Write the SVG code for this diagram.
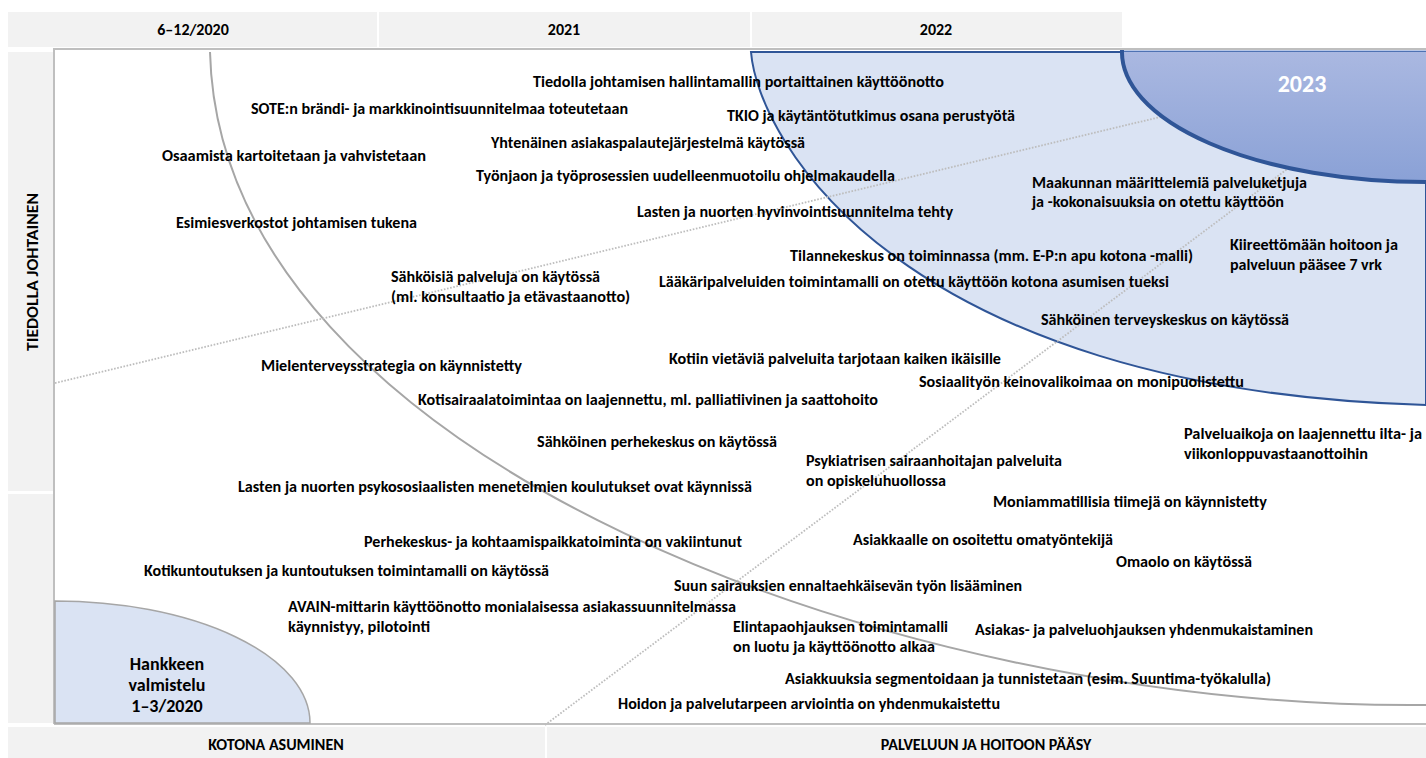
<svg xmlns="http://www.w3.org/2000/svg" width="1426" height="758" viewBox="0 0 1426 758">
<style>
.t{font-family:Carlito,Lato,"Liberation Sans",sans-serif;font-size:16px;font-weight:700;fill:#000}
.h{font-family:Carlito,Lato,"Liberation Sans",sans-serif;font-size:16px;font-weight:700;fill:#000;text-anchor:middle}
.band{fill:#f2f2f2}
.frame{stroke:#bfbfbf;stroke-width:2;fill:none}
.dot{stroke:#bdbdbd;stroke-width:1.8;stroke-dasharray:1.6 1.6;fill:none}
</style>
<defs>
<linearGradient id="g23" gradientUnits="userSpaceOnUse" x1="0" y1="52" x2="0" y2="182">
<stop offset="0" stop-color="#aab8e1"/>
<stop offset="1" stop-color="#8aa1d6"/>
</linearGradient>
</defs>
<rect width="1426" height="758" fill="#fff"/>
<g id="header">
<rect class="band" x="8" y="12" width="1114" height="35"/>
<line x1="378" y1="12" x2="378" y2="47" stroke="#fff" stroke-width="2"/>
<line x1="751" y1="12" x2="751" y2="47" stroke="#fff" stroke-width="2"/>
<text class="h" x="193" y="35">6–12/2020</text>
<text class="h" x="564" y="35">2021</text>
<text class="h" x="936" y="35">2022</text>
</g>
<g id="left-axis">
<rect class="band" x="8" y="52" width="45" height="439"/>
<rect class="band" x="8" y="494" width="45" height="229"/>
<text class="h" x="32" y="277.5" transform="rotate(-90 32 272)" textLength="158" lengthAdjust="spacingAndGlyphs">TIEDOLLA JOHTAINEN</text>
</g>
<g id="bottom-axis">
<rect class="band" x="8" y="727" width="537" height="31"/>
<rect class="band" x="547" y="727" width="879" height="31"/>
<text class="h" x="276" y="750">KOTONA ASUMINEN</text>
<text class="h" x="986" y="750">PALVELUUN JA HOITOON PÄÄSY</text>
</g>
<g id="frame">
<line class="frame" x1="53" y1="49" x2="1426" y2="49"/>
<line class="frame" x1="54" y1="49" x2="54" y2="724"/>
<line class="frame" x1="54" y1="724" x2="1426" y2="724"/>
</g>
<g id="phase-2022">
<path d="M751,52 L1426,52 L1426,405 C900,390 758,140 751,52 Z" fill="#dae3f3" stroke="#2f5597" stroke-width="2"/>
</g>
<g id="connectors">
<path d="M210,52 C220,460 900,710 1426,705" stroke="#a6a6a6" stroke-width="2" fill="none"/>
<line class="dot" x1="55" y1="383" x2="1160" y2="117"/>
<line class="dot" x1="545" y1="725" x2="1290" y2="167"/>
</g>
<g id="phase-2023">
<path d="M1122,52 A304,130 0 0 0 1426,182 L1426,52 Z" fill="url(#g23)"/>
<path d="M1122,51 L1426,51" stroke="#6f8fd0" stroke-width="1"/>
<path d="M1122,50 A304,130 0 0 0 1426,182" stroke="#2f5597" stroke-width="4" fill="none"/>
<text x="1302" y="92" font-family="Carlito,Lato,'Liberation Sans',sans-serif" font-size="24" font-weight="700" fill="#fff" text-anchor="middle">2023</text>
</g>
<g id="phase-prep">
<path d="M55,601 A255,122 0 0 1 310,723 L55,723 Z" fill="#dae3f3" stroke="#a6a6a6" stroke-width="1.5"/>
<text class="h" x="167" y="670" style="font-size:18px">Hankkeen</text>
<text class="h" x="167" y="691" style="font-size:18px">valmistelu</text>
<text class="h" x="167" y="712" style="font-size:18px">1–3/2020</text>
</g>
<g id="n1"><text class="t" x="533" y="87" textLength="411" lengthAdjust="spacingAndGlyphs">Tiedolla johtamisen hallintamallin portaittainen käyttöönotto</text></g>
<g id="n2"><text class="t" x="251" y="114" textLength="377" lengthAdjust="spacingAndGlyphs">SOTE:n brändi- ja markkinointisuunnitelmaa toteutetaan</text></g>
<g id="n3"><text class="t" x="727" y="121" textLength="288" lengthAdjust="spacingAndGlyphs">TKIO ja käytäntötutkimus osana perustyötä</text></g>
<g id="n4"><text class="t" x="491" y="148" textLength="314" lengthAdjust="spacingAndGlyphs">Yhtenäinen asiakaspalautejärjestelmä käytössä</text></g>
<g id="n5"><text class="t" x="162" y="161" textLength="264" lengthAdjust="spacingAndGlyphs">Osaamista kartoitetaan  ja vahvistetaan</text></g>
<g id="n6"><text class="t" x="476" y="181" textLength="419" lengthAdjust="spacingAndGlyphs">Työnjaon ja työprosessien uudelleenmuotoilu ohjelmakaudella</text></g>
<g id="n7"><text class="t" x="1032" y="188" textLength="275" lengthAdjust="spacingAndGlyphs">Maakunnan määrittelemiä palveluketjuja</text><text class="t" x="1032" y="207" textLength="252" lengthAdjust="spacingAndGlyphs">ja -kokonaisuuksia on otettu käyttöön</text></g>
<g id="n8"><text class="t" x="637" y="217" textLength="316" lengthAdjust="spacingAndGlyphs">Lasten ja nuorten hyvinvointisuunnitelma tehty</text></g>
<g id="n9"><text class="t" x="176" y="228" textLength="241" lengthAdjust="spacingAndGlyphs">Esimiesverkostot johtamisen tukena</text></g>
<g id="n10"><text class="t" x="1230" y="250" textLength="168" lengthAdjust="spacingAndGlyphs">Kiireettömään hoitoon ja</text><text class="t" x="1230" y="270" textLength="152" lengthAdjust="spacingAndGlyphs">palveluun pääsee 7 vrk</text></g>
<g id="n11"><text class="t" x="790" y="261" textLength="403" lengthAdjust="spacingAndGlyphs">Tilannekeskus on  toiminnassa (mm. E-P:n apu kotona -malli)</text></g>
<g id="n12"><text class="t" x="391" y="282" textLength="209" lengthAdjust="spacingAndGlyphs">Sähköisiä palveluja on käytössä</text><text class="t" x="391" y="302" textLength="239" lengthAdjust="spacingAndGlyphs">(ml. konsultaatio ja etävastaanotto)</text></g>
<g id="n13"><text class="t" x="659" y="287" textLength="510" lengthAdjust="spacingAndGlyphs">Lääkäripalveluiden toimintamalli on otettu käyttöön kotona asumisen tueksi</text></g>
<g id="n14"><text class="t" x="1041" y="325" textLength="248" lengthAdjust="spacingAndGlyphs">Sähköinen terveyskeskus on käytössä</text></g>
<g id="n15"><text class="t" x="669" y="364" textLength="332" lengthAdjust="spacingAndGlyphs">Kotiin vietäviä palveluita tarjotaan kaiken ikäisille</text></g>
<g id="n16"><text class="t" x="261" y="371" textLength="261" lengthAdjust="spacingAndGlyphs">Mielenterveysstrategia on käynnistetty</text></g>
<g id="n17"><text class="t" x="919" y="387" textLength="325" lengthAdjust="spacingAndGlyphs">Sosiaalityön keinovalikoimaa on monipuolistettu</text></g>
<g id="n18"><text class="t" x="418" y="405" textLength="460" lengthAdjust="spacingAndGlyphs">Kotisairaalatoimintaa on laajennettu, ml. palliatiivinen ja saattohoito</text></g>
<g id="n19"><text class="t" x="537" y="447" textLength="240" lengthAdjust="spacingAndGlyphs">Sähköinen perhekeskus on käytössä</text></g>
<g id="n20"><text class="t" x="1184" y="439" textLength="238" lengthAdjust="spacingAndGlyphs">Palveluaikoja on  laajennettu ilta- ja</text><text class="t" x="1184" y="459" textLength="184" lengthAdjust="spacingAndGlyphs">viikonloppuvastaanottoihin</text></g>
<g id="n21"><text class="t" x="806" y="466" textLength="256" lengthAdjust="spacingAndGlyphs">Psykiatrisen sairaanhoitajan palveluita</text><text class="t" x="806" y="486" textLength="140" lengthAdjust="spacingAndGlyphs">on opiskeluhuollossa</text></g>
<g id="n22"><text class="t" x="238" y="492" textLength="514" lengthAdjust="spacingAndGlyphs">Lasten ja nuorten psykososiaalisten menetelmien koulutukset ovat käynnissä</text></g>
<g id="n23"><text class="t" x="993" y="507" textLength="274" lengthAdjust="spacingAndGlyphs">Moniammatillisia tiimejä on käynnistetty</text></g>
<g id="n24"><text class="t" x="364" y="547" textLength="378" lengthAdjust="spacingAndGlyphs">Perhekeskus- ja kohtaamispaikkatoiminta on vakiintunut</text></g>
<g id="n25"><text class="t" x="853" y="545" textLength="260" lengthAdjust="spacingAndGlyphs">Asiakkaalle on osoitettu omatyöntekijä</text></g>
<g id="n26"><text class="t" x="1116" y="567" textLength="136" lengthAdjust="spacingAndGlyphs">Omaolo on käytössä</text></g>
<g id="n27"><text class="t" x="144" y="576" textLength="405" lengthAdjust="spacingAndGlyphs">Kotikuntoutuksen ja kuntoutuksen toimintamalli on käytössä</text></g>
<g id="n28"><text class="t" x="674" y="591" textLength="348" lengthAdjust="spacingAndGlyphs">Suun sairauksien ennaltaehkäisevän työn lisääminen</text></g>
<g id="n29"><text class="t" x="288" y="612" textLength="448" lengthAdjust="spacingAndGlyphs">AVAIN-mittarin käyttöönotto monialaisessa asiakassuunnitelmassa</text><text class="t" x="288" y="632" textLength="142" lengthAdjust="spacingAndGlyphs">käynnistyy, pilotointi</text></g>
<g id="n30"><text class="t" x="733" y="632" textLength="215" lengthAdjust="spacingAndGlyphs">Elintapaohjauksen toimintamalli</text><text class="t" x="733" y="652" textLength="202" lengthAdjust="spacingAndGlyphs">on luotu ja käyttöönotto alkaa</text></g>
<g id="n31"><text class="t" x="975" y="635" textLength="338" lengthAdjust="spacingAndGlyphs">Asiakas- ja palveluohjauksen yhdenmukaistaminen</text></g>
<g id="n32"><text class="t" x="785" y="684" textLength="486" lengthAdjust="spacingAndGlyphs">Asiakkuuksia  segmentoidaan ja tunnistetaan (esim. Suuntima-työkalulla)</text></g>
<g id="n33"><text class="t" x="618" y="709" textLength="382" lengthAdjust="spacingAndGlyphs">Hoidon ja palvelutarpeen arviointia on yhdenmukaistettu</text></g>
</svg>
